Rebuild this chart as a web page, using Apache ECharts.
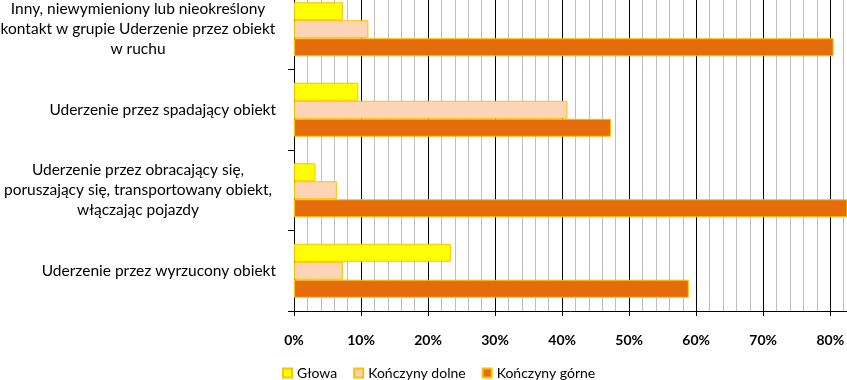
<!DOCTYPE html>
<html>
<head>
<meta charset="utf-8">
<script src="https://cdn.jsdelivr.net/npm/echarts@6/dist/echarts.min.js"></script>
<style>
html,body{margin:0;padding:0;background:#fff;}
#c{width:847px;height:380px;}
</style>
</head>
<body>
<div id="c"></div>
<script>
var categories = [
  "Inny, niewymieniony lub nieokreślony\nkontakt w grupie Uderzenie przez obiekt\nw ruchu",
  "Uderzenie przez spadający obiekt",
  "Uderzenie przez obracający się,\nporuszający się, transportowany obiekt,\nwłączając pojazdy",
  "Uderzenie przez wyrzucony obiekt"
];
var seriesNames = ["Głowa", "Kończyny dolne", "Kończyny górne"];
var glowa = [7.3, 9.6, 3.2, 23.4];
var konczynyDolne = [11.1, 40.8, 6.4, 7.3];
var konczynyGorne = [80.5, 47.3, 85, 58.9];
var xTickValues = [0, 10, 20, 30, 40, 50, 60, 70, 80];

var FONT = 'Lato';
var chart = echarts.init(document.getElementById('c'), null, {renderer: 'canvas'});
var xMax = 82.5;
var colors = ['#FFFF00', '#FBD5B5', '#E46C0A'];
var dataSets = [glowa, konczynyDolne, konczynyGorne];

var series = seriesNames.map(function (n, i) {
  return {
    name: n,
    type: 'bar',
    xAxisIndex: 0,
    yAxisIndex: 0,
    barWidth: 18,
    barGap: '0%',
    data: dataSets[i],
    itemStyle: {color: colors[i], borderColor: '#FFC000', borderWidth: 1}
  };
});

chart.setOption({
  animation: false,
  backgroundColor: '#ffffff',
  textStyle: {fontFamily: FONT},
  legend: {
    data: seriesNames,
    left: 277,
    top: 361,
    icon: 'rect',
    itemWidth: 9,
    itemHeight: 9,
    itemGap: 16,
    textStyle: {fontFamily: FONT, fontSize: 14, color: '#000'}
  },
  grid: {left: 294, right: 0, top: -11, bottom: 69, containLabel: false, outerBoundsMode: 'none'},
  xAxis: [
    {
      type: 'value', min: 0, max: xMax, interval: 10,
      axisLine: {show: true, lineStyle: {color: '#000', width: 1}},
      axisTick: {show: true, length: 5, lineStyle: {color: '#000'}},
      axisLabel: {
        show: true, margin: 22, showMaxLabel: false,
        fontFamily: FONT, fontSize: 14, fontWeight: 'bold', color: '#000',
        formatter: function (v) { return xTickValues.indexOf(v) >= 0 ? v + '%' : ''; }
      },
      splitLine: {show: false}
    },
    {
      type: 'value', min: 0, max: xMax, interval: 2, position: 'bottom',
      axisLine: {show: false}, axisTick: {show: false}, axisLabel: {show: false},
      splitLine: {show: true, lineStyle: {color: ['#000000', '#BFBFBF', '#BFBFBF', '#BFBFBF', '#BFBFBF'], width: 1}}
    }
  ],
  yAxis: {
    type: 'category',
    inverse: true,
    data: categories,
    axisLine: {show: true, lineStyle: {color: '#000', width: 1}},
    axisTick: {show: true, length: 6, lineStyle: {color: '#000'}},
    splitLine: {show: false},
    axisLabel: {
      margin: 18,
      color: '#000',
      fontFamily: FONT,
      fontSize: 15.5,
      lineHeight: 20,
      formatter: function (v) {
        var lines = v.split('\n');
        var key = lines.length > 1 ? 'c' : 'r';
        return lines.map(function (l) { return '{' + key + '|' + l + '}'; }).join('\n');
      },
      rich: {
        c: {width: 276, align: 'center', fontFamily: FONT, fontSize: 15.5, lineHeight: 20, color: '#000'},
        r: {align: 'right', fontFamily: FONT, fontSize: 15.5, lineHeight: 20, color: '#000'}
      }
    }
  },
  series: series
});
</script>
</body>
</html>
